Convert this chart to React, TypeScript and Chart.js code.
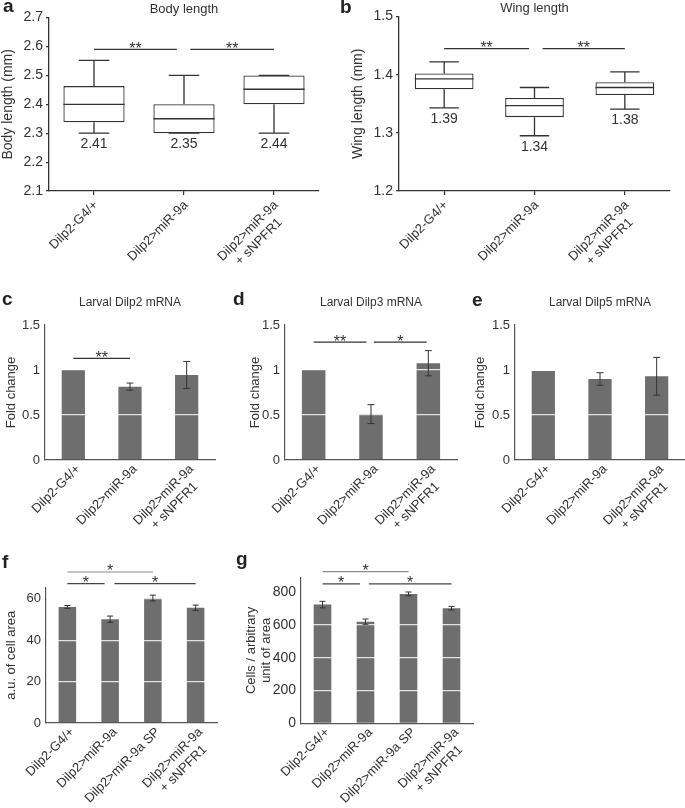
import React, { useEffect, useRef } from 'react';
import { Chart, registerables } from 'chart.js';

Chart.register(...registerables);

const FONT = '"Liberation Sans", Arial, Helvetica, sans-serif';
const TEXT = '#333333';
const LINE = '#333333';
const AXIS = '#555555';
const BAR = '#6e6e6e';
const GRID_WHITE = 'rgba(255,255,255,0.8)';

Chart.defaults.font.family = FONT;
Chart.defaults.color = TEXT;

// ---------------- data ----------------
const threeGroups = [['Dilp2-G4/+'], ['Dilp2>miR-9a'], ['Dilp2>miR-9a', '+ sNPFR1']];
const fourGroups = [['Dilp2-G4/+'], ['Dilp2>miR-9a'], ['Dilp2>miR-9a SP'], ['Dilp2>miR-9a', '+ sNPFR1']];

// a: body length box plot
const bodyMin = [2.3, 2.3, 2.3];
const bodyQ1 = [2.338, 2.3, 2.4];
const bodyMedian = [2.4, 2.35, 2.452];
const bodyQ3 = [2.463, 2.4, 2.5];
const bodyMax = [2.552, 2.5, 2.5];
const bodyMeans = ['2.41', '2.35', '2.44'];
const bodyTicks = [2.1, 2.2, 2.3, 2.4, 2.5, 2.6, 2.7];
const bodyTickLabels = ['2.1', '2.2', '2.3', '2.4', '2.5', '2.6', '2.7'];
const bodySig = [
  { from: 0, to: 0.92, y: 2.59, label: '**' },
  { from: 1.07, to: 2, y: 2.59, label: '**' },
];

// b: wing length box plot
const wingMin = [1.343, 1.295, 1.341];
const wingQ1 = [1.375, 1.327, 1.365];
const wingMedian = [1.393, 1.347, 1.378];
const wingQ3 = [1.402, 1.36, 1.387];
const wingMax = [1.422, 1.378, 1.405];
const wingMeans = ['1.39', '1.34', '1.38'];
const wingTicks = [1.2, 1.3, 1.4, 1.5];
const wingTickLabels = ['1.2', '1.3', '1.4', '1.5'];
const wingSig = [
  { from: 0, to: 0.94, y: 1.445, label: '**' },
  { from: 1.09, to: 2, y: 1.445, label: '**' },
];

// c, d, e: fold change
const foldTicks = [0, 0.5, 1, 1.5];
const foldTickLabels = ['0', '0.5', '1', '1.5'];
const dilp2Fold = [1.0, 0.815, 0.945];
const dilp2Err = [0, 0.04, 0.15];
const dilp2Sig = [{ from: 0, to: 1, y: 1.13, label: '**' }];
const dilp3Fold = [1.0, 0.51, 1.075];
const dilp3Err = [0, 0.105, 0.14];
const dilp3Sig = [
  { from: 0, to: 0.92, y: 1.31, label: '**' },
  { from: 1.05, to: 1.97, y: 1.31, label: '*' },
];
const dilp5Fold = [0.99, 0.9, 0.93];
const dilp5Err = [0, 0.07, 0.21];
const dilp5Sig: any[] = [];

// f: cell area
const cellArea = [56.1, 50.2, 60.4, 55.7];
const cellAreaErr = [0.7, 1.5, 1.4, 1.3];
const cellAreaTicks = [0, 20, 40, 60];
const cellAreaTickLabels = ['0', '20', '40', '60'];
const cellAreaSigOuter = [{ from: 0, to: 2, y: 73, label: '*' }];
const cellAreaSigInner = [
  { from: 0, to: 0.87, y: 67.4, label: '*' },
  { from: 1.1, to: 3, y: 67.4, label: '*' },
];

// g: cells per unit area
const cellCount = [724, 620, 789, 702];
const cellCountErr = [20, 16, 12, 11];
const cellCountTicks = [0, 200, 400, 600, 800];
const cellCountTickLabels = ['0', '200', '400', '600', '800'];
const cellCountSigOuter = [{ from: 0, to: 2, y: 925, label: '*' }];
const cellCountSigInner = [
  { from: 0, to: 0.87, y: 850, label: '*' },
  { from: 1.08, to: 3, y: 850, label: '*' },
];

// ---------------- plugins ----------------
function sigPlugin(id: string, sigs: any[], color: string, fontSize: number, lift: number) {
  return {
    id,
    afterDraw(chart: any) {
      const { ctx } = chart;
      const x = chart.scales.x;
      const y = chart.scales.y;
      ctx.save();
      ctx.strokeStyle = color;
      ctx.fillStyle = TEXT;
      ctx.lineWidth = 1.2;
      ctx.font = `${fontSize}px ${FONT}`;
      ctx.textAlign = 'center';
      ctx.textBaseline = 'alphabetic';
      sigs.forEach((s) => {
        const x1 = x.getPixelForValue(s.from);
        const x2 = x.getPixelForValue(s.to);
        const yy = y.getPixelForValue(s.y);
        ctx.beginPath();
        ctx.moveTo(x1, yy);
        ctx.lineTo(x2, yy);
        ctx.stroke();
        ctx.fillText(s.label, (x1 + x2) / 2, yy + lift);
      });
      ctx.restore();
    },
  };
}

function xLabelPlugin(fontSize: number, dx: number, dy: number) {
  return {
    id: 'xlabels',
    afterDraw(chart: any) {
      const { ctx } = chart;
      const x = chart.scales.x;
      const labels = chart.data.labels as string[][];
      const lh = fontSize * 1.18;
      ctx.save();
      ctx.font = `${fontSize}px ${FONT}`;
      ctx.fillStyle = TEXT;
      ctx.textBaseline = 'middle';
      ctx.textAlign = 'center';
      labels.forEach((lines, i) => {
        const px = x.getPixelForValue(i);
        const w = Math.max(...lines.map((l) => ctx.measureText(l).width));
        ctx.save();
        ctx.translate(px + dx, x.top + dy);
        ctx.rotate(-Math.PI / 4);
        lines.forEach((l, j) => ctx.fillText(l, -w / 2, j * lh));
        ctx.restore();
      });
      ctx.restore();
    },
  };
}

function boxPlugin(mins: number[], medians: number[], maxs: number[], means: string[], capRatio: number) {
  return {
    id: 'boxparts',
    afterDatasetsDraw(chart: any) {
      const { ctx } = chart;
      const y = chart.scales.y;
      const meta = chart.getDatasetMeta(0);
      const ranges = chart.data.datasets[0].data as number[][];
      ctx.save();
      ctx.strokeStyle = LINE;
      ctx.lineWidth = 1.3;
      meta.data.forEach((bar: any, i: number) => {
        const cx = bar.x;
        const w = bar.width;
        const cap = w * capRatio;
        const yQ1 = y.getPixelForValue(ranges[i][0]);
        const yQ3 = y.getPixelForValue(ranges[i][1]);
        const yMin = y.getPixelForValue(mins[i]);
        const yMax = y.getPixelForValue(maxs[i]);
        const yMed = y.getPixelForValue(medians[i]);
        ctx.beginPath();
        ctx.moveTo(cx, yQ3);
        ctx.lineTo(cx, yMax);
        ctx.moveTo(cx - cap / 2, yMax);
        ctx.lineTo(cx + cap / 2, yMax);
        ctx.moveTo(cx, yQ1);
        ctx.lineTo(cx, yMin);
        ctx.moveTo(cx - cap / 2, yMin);
        ctx.lineTo(cx + cap / 2, yMin);
        ctx.moveTo(cx - w / 2, yMed);
        ctx.lineTo(cx + w / 2, yMed);
        ctx.stroke();
        ctx.fillStyle = TEXT;
        ctx.font = `14px ${FONT}`;
        ctx.textAlign = 'center';
        ctx.textBaseline = 'top';
        ctx.fillText(means[i], cx, yMin + 4);
      });
      ctx.restore();
    },
  };
}

function errorPlugin(errs: number[], capW: number) {
  return {
    id: 'errbars',
    afterDraw(chart: any) {
      const { ctx } = chart;
      const y = chart.scales.y;
      const meta = chart.getDatasetMeta(0);
      const vals = chart.data.datasets[0].data as number[];
      ctx.save();
      ctx.strokeStyle = LINE;
      ctx.lineWidth = 1;
      meta.data.forEach((bar: any, i: number) => {
        const e = errs[i];
        if (!e) return;
        const cx = bar.x;
        const yT = y.getPixelForValue(vals[i] + e);
        const yB = y.getPixelForValue(vals[i] - e);
        ctx.beginPath();
        ctx.moveTo(cx, yT);
        ctx.lineTo(cx, yB);
        ctx.moveTo(cx - capW / 2, yT);
        ctx.lineTo(cx + capW / 2, yT);
        ctx.moveTo(cx - capW / 2, yB);
        ctx.lineTo(cx + capW / 2, yB);
        ctx.stroke();
      });
      ctx.restore();
    },
  };
}

// ---------------- config builders ----------------
function boxConfig(o: any) {
  return {
    type: 'bar',
    data: {
      labels: o.categories,
      datasets: [
        {
          data: o.q1.map((v: number, i: number) => [v, o.q3[i]]),
          backgroundColor: '#ffffff',
          borderColor: LINE,
          borderWidth: 1.3,
          borderSkipped: false,
          barPercentage: o.barPct,
          categoryPercentage: 1,
        },
      ],
    },
    options: {
      responsive: false,
      animation: false,
      events: [],
      layout: { padding: { left: 0, right: o.padRight, top: 0, bottom: 0 } },
      plugins: {
        legend: { display: false },
        tooltip: { enabled: false },
        title: {
          display: true,
          text: o.title,
          color: TEXT,
          fullSize: false,
          font: { family: FONT, size: 13, weight: 'normal' },
          padding: { top: o.titlePadTop, bottom: 0 },
        },
      },
      scales: {
        x: {
          type: 'category',
          offset: true,
          grid: { display: true, drawOnChartArea: false, drawTicks: true, tickLength: 4, offset: false, color: LINE, lineWidth: 1.2 },
          border: { display: true, color: LINE, width: 1.3 },
          ticks: { display: false },
          afterFit: (s: any) => { s.height = o.xHeight; },
        },
        y: {
          type: 'linear',
          min: o.yMin,
          max: o.yMax,
          afterBuildTicks: (s: any) => { s.ticks = o.ticks.map((v: number) => ({ value: v })); },
          ticks: {
            autoSkip: false,
            color: TEXT,
            padding: 3,
            font: { family: FONT, size: 14 },
            callback: (_v: any, i: number) => o.tickLabels[i],
          },
          grid: { drawOnChartArea: false, drawTicks: true, tickLength: 3, color: LINE, lineWidth: 1.2 },
          border: { display: true, color: LINE, width: 1.3 },
          title: {
            display: true,
            text: o.yTitle,
            color: TEXT,
            font: { family: FONT, size: 14 },
            padding: { top: o.yTitlePad, bottom: 0 },
          },
          afterFit: (s: any) => { s.width = o.yWidth; },
        },
      },
    },
    plugins: [
      boxPlugin(o.min, o.median, o.max, o.means, 0.5),
      sigPlugin('sig', o.sig, LINE, 16, 4.5),
      xLabelPlugin(13, 2, 12),
    ],
  };
}

function barConfig(o: any) {
  const plugins: any[] = [errorPlugin(o.errs, o.capW), xLabelPlugin(13, 5, 7)];
  (o.sigSets || []).forEach((set: any, k: number) => {
    plugins.push(sigPlugin('sig' + k, set.sigs, set.color, o.starSize, o.starLift));
  });
  return {
    type: 'bar',
    data: {
      labels: o.categories,
      datasets: [
        {
          data: o.values,
          backgroundColor: BAR,
          borderWidth: 0,
          barPercentage: 0.41,
          categoryPercentage: 1,
        },
      ],
    },
    options: {
      responsive: false,
      animation: false,
      events: [],
      layout: { padding: { left: 0, right: o.padRight, top: o.padTop, bottom: 0 } },
      plugins: {
        legend: { display: false },
        tooltip: { enabled: false },
        title: o.title
          ? {
              display: true,
              text: o.title,
              color: TEXT,
              fullSize: false,
              font: { family: FONT, size: 12, weight: 'normal', lineHeight: 1.2 },
              padding: { top: 5, bottom: 15.6 },
            }
          : { display: false },
      },
      scales: {
        x: {
          type: 'category',
          offset: true,
          grid: { display: false },
          border: { display: true, color: AXIS, width: 1.2, z: 2 },
          ticks: { display: false },
          afterFit: (s: any) => { s.height = o.xHeight; },
        },
        y: {
          type: 'linear',
          min: 0,
          max: o.yMax,
          afterBuildTicks: (s: any) => { s.ticks = o.ticks.map((v: number) => ({ value: v })); },
          ticks: {
            autoSkip: false,
            color: TEXT,
            padding: 5,
            font: { family: FONT, size: o.tickSize },
            callback: (_v: any, i: number) => o.tickLabels[i],
          },
          grid: {
            z: 1,
            drawTicks: false,
            lineWidth: 1.2,
            color: (c: any) => (c.tick && c.tick.value !== 0 ? GRID_WHITE : 'rgba(0,0,0,0)'),
          },
          border: { display: true, color: AXIS, width: 1.2, z: 1 },
          title: {
            display: true,
            text: o.yTitle,
            color: TEXT,
            font: { family: FONT, size: 13, lineHeight: 1.2 },
            padding: { top: o.yTitlePad, bottom: 0 },
          },
          afterFit: (s: any) => { s.width = o.yWidth; },
        },
      },
    },
    plugins,
  };
}

// ---------------- components ----------------
function ChartPanel({ left, top, width, height, make }: any) {
  const ref = useRef<HTMLCanvasElement>(null);
  useEffect(() => {
    const chart = new Chart(ref.current as HTMLCanvasElement, make());
    return () => chart.destroy();
  }, []);
  return (
    <canvas
      ref={ref}
      width={width}
      height={height}
      style={{ position: 'absolute', left, top, width, height }}
    />
  );
}

function Letter({ text, left, top }: any) {
  return (
    <div
      style={{
        position: 'absolute',
        left,
        top,
        font: `bold 19px ${FONT}`,
        lineHeight: '19px',
        color: '#222',
      }}
    >
      {text}
    </div>
  );
}

export default function App() {
  return (
    <div style={{ position: 'absolute', left: 0, top: 0, width: 685, height: 808, background: '#fff', overflow: 'hidden' }}>
      <ChartPanel
        left={0} top={0} width={330} height={300}
        make={() => boxConfig({
          title: 'Body length', yTitle: 'Body length (mm)', categories: threeGroups,
          min: bodyMin, q1: bodyQ1, median: bodyMedian, q3: bodyQ3, max: bodyMax, means: bodyMeans,
          ticks: bodyTicks, tickLabels: bodyTickLabels, sig: bodySig, yMin: 2.1, yMax: 2.7,
          yWidth: 49, xHeight: 109, padRight: 11, titlePadTop: 2, yTitlePad: 0, barPct: 0.68,
        })}
      />
      <ChartPanel
        left={340} top={0} width={345} height={300}
        make={() => boxConfig({
          title: 'Wing length', yTitle: 'Wing length (mm)', categories: threeGroups,
          min: wingMin, q1: wingQ1, median: wingMedian, q3: wingQ3, max: wingMax, means: wingMeans,
          ticks: wingTicks, tickLabels: wingTickLabels, sig: wingSig, yMin: 1.2, yMax: 1.5,
          yWidth: 59, xHeight: 109, padRight: 15, titlePadTop: 1, yTitlePad: 9.5, barPct: 0.65,
        })}
      />
      <ChartPanel
        left={0} top={290} width={230} height={260}
        make={() => barConfig({
          title: 'Larval Dilp2 mRNA', yTitle: 'Fold change', categories: threeGroups,
          values: dilp2Fold, errs: dilp2Err, ticks: foldTicks, tickLabels: foldTickLabels, yMax: 1.5,
          sigSets: [{ sigs: dilp2Sig, color: LINE }], starSize: 16, starLift: 4.5,
          yWidth: 45, xHeight: 90, padRight: 15, padTop: 0, yTitlePad: 3.7, tickSize: 13, capW: 7,
        })}
      />
      <ChartPanel
        left={230} top={290} width={230} height={260}
        make={() => barConfig({
          title: 'Larval Dilp3 mRNA', yTitle: 'Fold change', categories: threeGroups,
          values: dilp3Fold, errs: dilp3Err, ticks: foldTicks, tickLabels: foldTickLabels, yMax: 1.5,
          sigSets: [{ sigs: dilp3Sig, color: LINE }], starSize: 16, starLift: 4.5,
          yWidth: 55, xHeight: 90, padRight: 3, padTop: 0, yTitlePad: 17.2, tickSize: 13, capW: 7,
        })}
      />
      <ChartPanel
        left={455} top={290} width={230} height={260}
        make={() => barConfig({
          title: 'Larval Dilp5 mRNA', yTitle: 'Fold change', categories: threeGroups,
          values: dilp5Fold, errs: dilp5Err, ticks: foldTicks, tickLabels: foldTickLabels, yMax: 1.5,
          sigSets: [{ sigs: dilp5Sig, color: LINE }], starSize: 16, starLift: 4.5,
          yWidth: 60, xHeight: 90, padRight: 0, padTop: 0, yTitlePad: 17.2, tickSize: 13, capW: 7,
        })}
      />
      <ChartPanel
        left={0} top={540} width={230} height={268}
        make={() => barConfig({
          title: null, yTitle: 'a.u. of cell area', categories: fourGroups,
          values: cellArea, errs: cellAreaErr, ticks: cellAreaTicks, tickLabels: cellAreaTickLabels, yMax: 65.5,
          sigSets: [{ sigs: cellAreaSigOuter, color: '#8a8a8a' }, { sigs: cellAreaSigInner, color: '#444' }],
          starSize: 16, starLift: 4.2,
          yWidth: 46, xHeight: 85, padRight: 13, padTop: 47.5, yTitlePad: 3.2, tickSize: 13, capW: 6,
        })}
      />
      <ChartPanel
        left={235} top={540} width={250} height={268}
        make={() => barConfig({
          title: null, yTitle: ['Cells / arbitrary', 'unit of area'], categories: fourGroups,
          values: cellCount, errs: cellCountErr, ticks: cellCountTicks, tickLabels: cellCountTickLabels, yMax: 890,
          sigSets: [{ sigs: cellCountSigOuter, color: '#8a8a8a' }, { sigs: cellCountSigInner, color: '#444' }],
          starSize: 16, starLift: 4.2,
          yWidth: 66, xHeight: 84.7, padRight: 12, padTop: 37.4, yTitlePad: 8.2, tickSize: 14, capW: 6,
        })}
      />
      <Letter text="a" left={3} top={-4} />
      <Letter text="b" left={340} top={-3} />
      <Letter text="c" left={2} top={289} />
      <Letter text="d" left={233} top={289} />
      <Letter text="e" left={472} top={290} />
      <Letter text="f" left={2} top={552} />
      <Letter text="g" left={236} top={549} />
    </div>
  );
}
